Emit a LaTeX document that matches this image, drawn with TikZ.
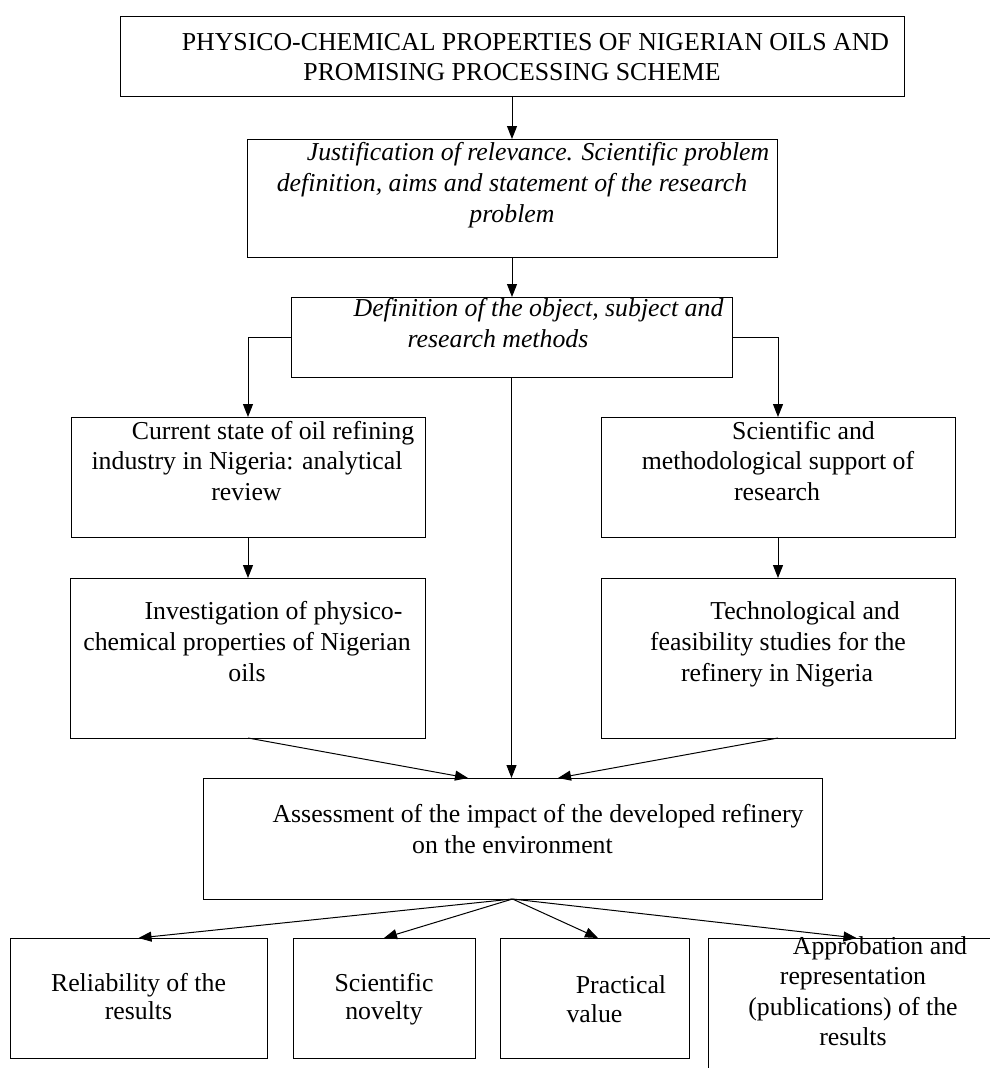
\documentclass[tikz,border=0pt]{standalone}
\usepackage{fontspec}
\setmainfont{Liberation Serif}
\usetikzlibrary{arrows.meta,calc}
\newcommand\Ln[2]{\makebox[0pt]{\hspace*{#1}#2\hspace*{-#1}}}
\newcommand\bx[5]{\parbox[c][#2][t]{#1}{\centering\fontsize{25.8}{#4}\selectfont\vspace*{-12pt}\rule{0pt}{\dimexpr#3+12pt\relax}#5}}
\tikzset{
  box/.style={draw, line width=1pt, inner sep=0pt, outer sep=0pt},
  arr/.style={-{Triangle[length=13pt,width=10pt]}, line width=1pt},
  ln/.style={line width=1pt}
}
\begin{document}
\begin{tikzpicture}[x=1pt,y=-1pt]
\useasboundingbox (0,0) rectangle (990,1068);
\fill[white] (0,0) rectangle (990,1068);
\clip (0,0) rectangle (990,1068);
\node[box] (top) at (512,56) {\bx{784pt}{80pt}{34pt}{30pt}{\Ln{23.5pt}{PHYSICO-CHEMICAL PROPERTIES OF NIGERIAN OILS AND}\\\Ln{0pt}{PROMISING PROCESSING SCHEME}}};
\node[box] (just) at (512,198) {\bx{530pt}{118pt}{21pt}{31pt}{\itshape\Ln{26pt}{Justification of relevance. Scientific problem}\\\Ln{0pt}{definition, aims and statement of the research}\\\Ln{0pt}{problem}}};
\node[box] (def) at (511.5,337) {\bx{441pt}{80pt}{19pt}{31pt}{\itshape\Ln{27pt}{Definition of the object, subject and}\\\Ln{-13.5pt}{research methods}}};
\node[box] (cur) at (248,477) {\bx{354pt}{120pt}{22pt}{30.5pt}{\Ln{25pt}{Current state of oil refining}\\\Ln{-1pt}{industry in Nigeria: analytical}\\\Ln{-1.5pt}{review}}};
\node[box] (inv) at (248,658) {\bx{355pt}{160pt}{41pt}{31pt}{\Ln{25.5pt}{Investigation of physico-}\\\Ln{-1pt}{chemical properties of Nigerian}\\\Ln{-1pt}{oils}}};
\node[box] (sci) at (778,477) {\bx{354pt}{120pt}{22pt}{30.5pt}{\Ln{25.5pt}{Scientific and}\\\Ln{0pt}{methodological support of}\\\Ln{-1pt}{research}}};
\node[box] (tech) at (778,658) {\bx{354pt}{160pt}{41pt}{31pt}{\Ln{27pt}{Technological and}\\\Ln{0pt}{feasibility studies for the}\\\Ln{-1pt}{refinery in Nigeria}}};
\node[box] (assess) at (512.5,838.5) {\bx{619pt}{121pt}{44pt}{31.5pt}{\Ln{25.5pt}{Assessment of the impact of the developed refinery}\\\Ln{0pt}{on the environment}}};
\node[box] (rel) at (138.5,998) {\bx{257pt}{120pt}{53pt}{28.5pt}{\Ln{0pt}{Reliability of the}\\\Ln{0pt}{results}}};
\node[box] (nov) at (384,998) {\bx{182pt}{120pt}{53pt}{28.5pt}{\Ln{0pt}{Scientific}\\\Ln{0pt}{novelty}}};
\node[box] (prac) at (594.5,998) {\bx{189pt}{120pt}{55pt}{29pt}{\Ln{26.5pt}{Practical}\\\Ln{0pt}{value}}};
\node[box] (appr) at (853,1014) {\bx{290pt}{152pt}{16pt}{30.5pt}{\Ln{27pt}{Approbation and}\\\Ln{0pt}{representation}\\\Ln{0pt}{(publications) of the}\\\Ln{0pt}{results}}};
% connectors
\draw[arr] (top.south -| just.north) -- (just.north);
\draw[arr] (just.south) -- (just.south |- def.north);
\draw[arr] (def.west) -| (cur.north);
\draw[arr] (def.east) -| (sci.north);
\draw[arr] (def.south) -- (def.south |- assess.north);
\draw[arr] (cur.south) -- (inv.north);
\draw[arr] (sci.south) -- (tech.north);
\draw[arr] (inv.south) -- ($(assess.north)+(-44.5,0)$);
\draw[arr] (tech.south) -- ($(assess.north)+(45.5,0)$);
\draw[arr] (assess.south) -- (rel.north);
\draw[arr] (assess.south) -- (nov.north);
\draw[arr] (assess.south) -- ($(prac.north)+(3.5,0)$);
\draw[arr] (assess.south) -- ($(appr.north)+(3.5,0)$);
\end{tikzpicture}
\end{document}
